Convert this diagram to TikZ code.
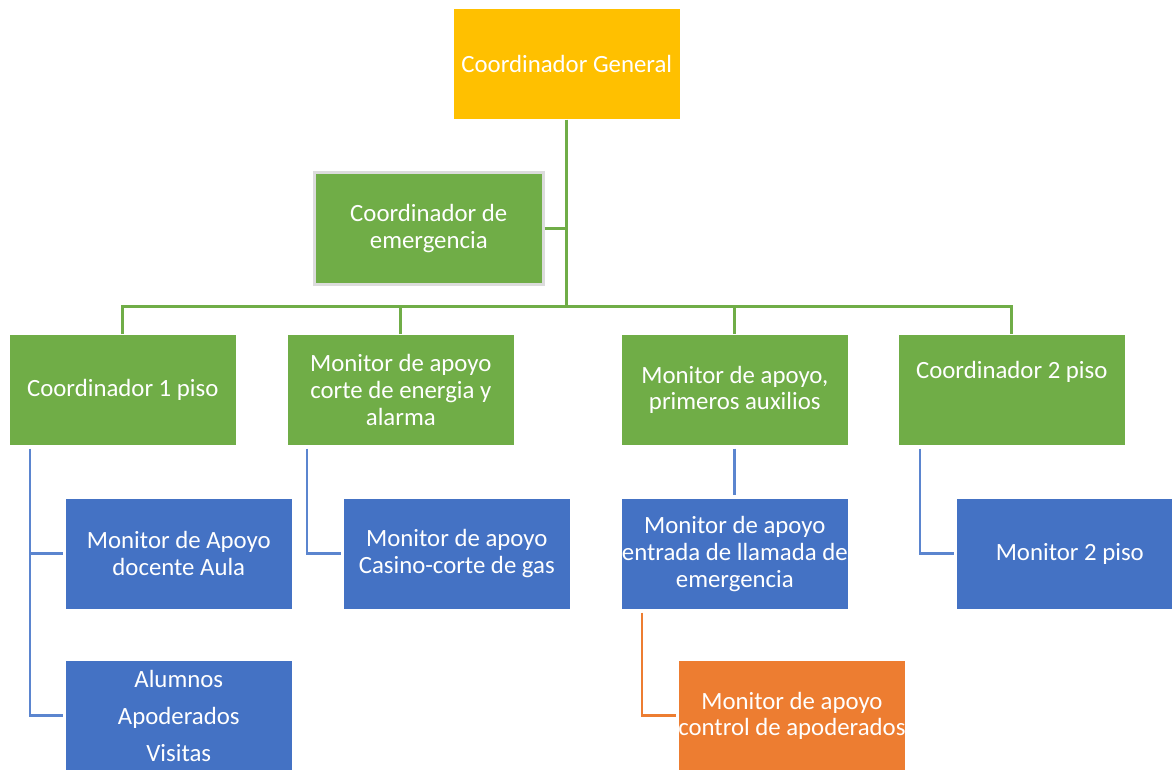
\documentclass[tikz,border=0pt]{standalone}
\usepackage{fontspec}
\setmainfont{Carlito}
\definecolor{cgreen}{HTML}{70AD47}
\definecolor{cblue}{HTML}{4472C4}
\definecolor{clblue}{HTML}{5B85CF}
\definecolor{corange}{HTML}{ED7D31}
\definecolor{cyellow}{HTML}{FFC000}
\definecolor{cgray}{HTML}{DCDCDC}
\begin{document}
\begin{tikzpicture}[x=1pt,y=-1pt,
  box/.style={rectangle, anchor=north west, minimum width=227pt, minimum height=111pt,
    inner sep=0pt, align=center, text=white, font=\fontsize{24.8}{26.8}\selectfont,
    draw=white, line width=0.6pt},
  gbox/.style={box, fill=cgreen},
  bbox/.style={box, fill=cblue},
  gline/.style={draw=cgreen, line width=3pt},
  bline/.style={draw=clblue, line width=2.8pt},
  oline/.style={draw=corange, line width=2.8pt}]
\useasboundingbox (0,0) rectangle (1172,769);
\clip (0,0) rectangle (1172,769);
% boxes
\node[box, fill=cyellow] (gen) at (453,8) {Coordinador General};
\node[gbox, draw=cgray, line width=2.5pt, minimum width=229pt, minimum height=112pt] (emer) at (313,171) {Coordinador de\\emergencia};
\node[gbox] (c1) at (9,334) {Coordinador 1 piso};
\node[gbox] (me) at (287,334) {Monitor de apoyo\\corte de energia y\\alarma};
\node[gbox] (pa) at (621,334) {Monitor de apoyo,\\primeros auxilios};
\node[gbox] (c2) at (898,334) {};
\node[text=white, font=\fontsize{24.8}{26.8}\selectfont, inner sep=0pt] (c2t) at ([yshift=18pt]c2.center) {Coordinador 2 piso};
\node[bbox] (ma) at (65,498) {Monitor de Apoyo\\docente Aula};
\node[bbox] (cas) at (343,498) {Monitor de apoyo\\Casino-corte de gas};
\node[bbox] (ent) at (621,498) {Monitor de apoyo\\entrada de llamada de\\emergencia};
\node[bbox] (m2) at (956,498) {Monitor 2 piso};
\node[bbox] (alu) at (65,660) {Alumnos\\[10.5pt]Apoderados\\[10.5pt]Visitas};
\node[box, fill=corange] (ctl) at (678,660) {Monitor de apoyo\\control de apoderados};
% green connectors
\coordinate (bus) at (566.5,306);
\draw[gline] (gen.south) -- (gen.south |- bus);
\draw[gline] (c1.north) -- (c1.north |- bus) -- (c2.north |- bus) -- (c2.north);
\draw[gline] (me.north) -- (me.north |- bus);
\draw[gline] (pa.north) -- (pa.north |- bus);
\draw[gline] (emer.east) -- (emer.east -| gen.south);
% blue connectors
\coordinate (c1a) at ([xshift=21pt,yshift=-3pt]c1.south west);
\draw[bline] (c1a) |- ([xshift=-2pt]alu.west);
\draw[bline] (c1a |- ma.west) -- ([xshift=-2pt]ma.west);
\coordinate (mea) at ([xshift=20pt,yshift=-3pt]me.south west);
\draw[bline] (mea) |- ([xshift=-2pt]cas.west);
\coordinate (c2a) at ([xshift=22pt,yshift=-3pt]c2.south west);
\draw[bline] (c2a) |- ([xshift=-2pt]m2.west);
\draw[bline] ([yshift=-3pt]pa.south) -- ([yshift=3pt]ent.north);
% orange connector
\coordinate (enta) at ([xshift=21pt,yshift=-3pt]ent.south west);
\draw[oline] (enta) |- ([xshift=-2pt]ctl.west);
\end{tikzpicture}
\end{document}
